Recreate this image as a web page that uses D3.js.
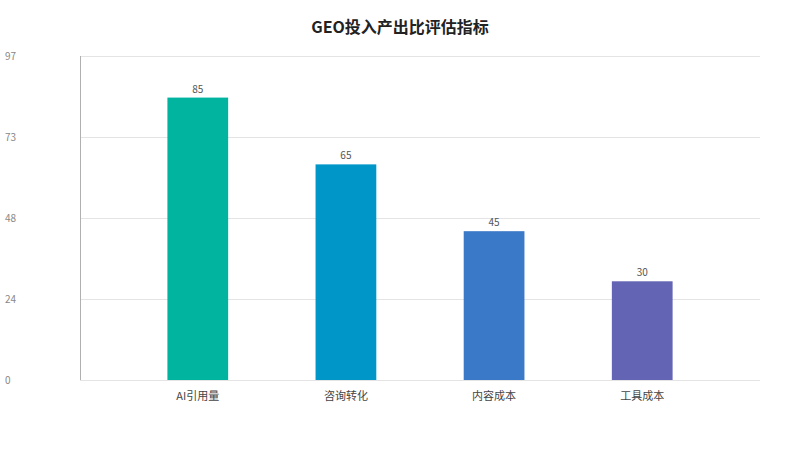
<!DOCTYPE html>
<html><head><meta charset="utf-8">
<script src="https://cdn.jsdelivr.net/npm/d3@7/dist/d3.min.js"></script>
<style>body{margin:0;background:#fff;}svg{display:block;font-family:"Noto Sans CJK SC","Noto Sans",sans-serif;}</style>
</head><body><svg id="c" width="800" height="450"></svg>
<script>
const title = "GEO投入产出比评估指标";
const categories = ["AI引用量", "咨询转化", "内容成本", "工具成本"];
const values = [85, 65, 45, 30];
const colors = ["#00B4A0", "#0096C8", "#3A78C8", "#6464B4"];
const yMax = 97;
const yTicks = [0, 24.25, 48.5, 72.75, 97];
const yTickLabels = ["0", "24", "48", "73", "97"];

const svg = d3.select("#c");
const m = {l: 80, r: 40, t: 56, b: 70};
const W = 800, H = 450;
const x = d3.scaleBand().domain(categories).range([m.l, W - m.r]).paddingInner(0.59).paddingOuter(0.59);
const y = d3.scaleLinear().domain([0, yMax]).range([H - m.b, m.t]);

svg.append("text").attr("x", 400).attr("y", 33).attr("text-anchor", "middle")
  .attr("font-size", 16).attr("font-weight", "bold").attr("fill", "#222").text(title);

// gridlines
svg.append("g").selectAll("line").data(yTicks).join("line")
  .attr("x1", m.l).attr("x2", W - m.r)
  .attr("y1", d => Math.round(y(d)) + 0.5).attr("y2", d => Math.round(y(d)) + 0.5)
  .attr("stroke", "#e4e4e4").attr("stroke-width", 1);

// y tick labels
svg.append("g").selectAll("text").data(yTicks).join("text")
  .attr("x", 5).attr("y", d => y(d) + 1).attr("dominant-baseline", "middle")
  .attr("font-size", 10).attr("fill", "#888").text((d, i) => yTickLabels[i]);

// left axis line
svg.append("line").attr("x1", m.l + 0.5).attr("x2", m.l + 0.5)
  .attr("y1", y(yMax)).attr("y2", y(0)).attr("stroke", "#b0b0b0");

// bars
svg.append("g").selectAll("rect").data(values).join("rect")
  .attr("x", (d, i) => x(categories[i])).attr("width", x.bandwidth())
  .attr("y", d => y(d) + 1.5).attr("height", d => y(0) - y(d) - 1.5)
  .attr("fill", (d, i) => colors[i]);

// value labels
svg.append("g").selectAll("text").data(values).join("text")
  .attr("x", (d, i) => x(categories[i]) + x.bandwidth() / 2).attr("y", d => y(d) - 3.5)
  .attr("text-anchor", "middle").attr("font-size", 10).attr("fill", "#555").text(d => d);

// category labels
svg.append("g").selectAll("text").data(categories).join("text")
  .attr("x", d => x(d) + x.bandwidth() / 2).attr("y", H - m.b + 20)
  .attr("text-anchor", "middle").attr("font-size", 11).attr("fill", "#444").text(d => d);
</script></body></html>
